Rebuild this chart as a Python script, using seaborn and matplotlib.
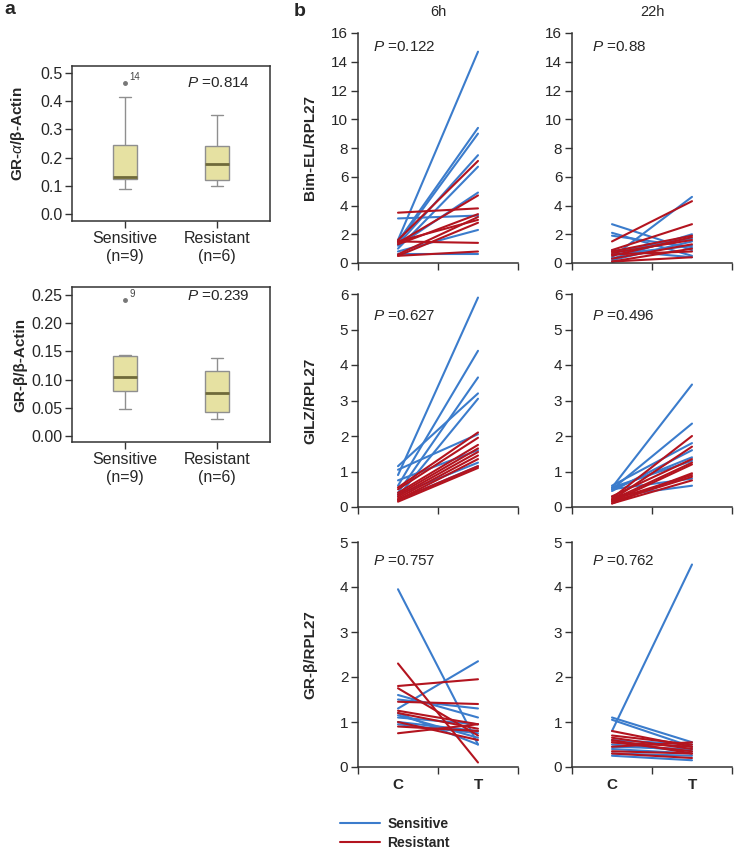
import pandas as pd
import matplotlib
matplotlib.use("Agg")
import matplotlib.pyplot as plt
import seaborn as sns

sns.set_style("ticks")
plt.rcParams['font.family'] = ['Liberation Sans', 'DejaVu Sans']
plt.rcParams['mathtext.fontset'] = 'custom'
plt.rcParams['mathtext.rm'] = 'Liberation Sans'
plt.rcParams['mathtext.it'] = 'Liberation Sans:italic'
plt.rcParams['mathtext.bf'] = 'Liberation Sans:bold'

W, H = 742, 856

# ---- panel a data: per-sample expression ----
groups_a = ["Sensitive", "Resistant"]
group_labels_a = ["Sensitive\n(n=9)", "Resistant\n(n=6)"]
gr_alpha_sens = [0.088, 0.110, 0.125, 0.128, 0.130, 0.200, 0.245, 0.415, 0.465]
gr_alpha_res = [0.100, 0.115, 0.139, 0.217, 0.250, 0.352]
gr_beta_sens = [0.048, 0.070, 0.080, 0.090, 0.105, 0.120, 0.142, 0.143, 0.241]
gr_beta_res = [0.031, 0.040, 0.0504, 0.1032, 0.1189, 0.139]
outlier_ids = ["14", "9"]
p_values_a = ["0.814", "0.239"]

# ---- panel b data: (control, treated) pairs ----
conditions = ["C", "T"]
times = ["6h", "22h"]
genes = ["Bim-EL/RPL27", "GILZ/RPL27", "GR-β/RPL27"]
p_values_b = [["0.122", "0.88"], ["0.627", "0.496"], ["0.757", "0.762"]]

bim_6h_sens = [(1.6, 14.7), (1.5, 9.4), (1.4, 9.0), (1.3, 7.5), (1.0, 6.7),
               (1.2, 4.9), (3.1, 3.3), (0.8, 2.3), (0.6, 0.6)]
bim_6h_res = [(3.5, 3.8), (1.6, 7.1), (1.4, 4.7), (1.3, 3.4), (0.6, 3.2),
              (1.5, 3.0), (0.5, 2.8), (1.5, 1.4), (0.5, 0.8)]
bim_22h_sens = [(2.7, 0.9), (2.1, 0.5), (1.9, 1.1), (0.4, 4.6), (0.3, 2.0),
                (0.8, 1.7), (0.2, 1.5), (0.9, 0.4), (0.6, 1.2)]
bim_22h_res = [(1.5, 4.3), (0.9, 2.7), (0.8, 1.9), (0.7, 1.6), (0.5, 1.8),
               (0.3, 1.3), (0.1, 1.0), (0.1, 0.4), (0.6, 0.8)]
gilz_6h_sens = [(0.9, 5.9), (0.6, 4.4), (0.4, 3.65), (1.15, 3.2), (0.3, 3.05),
                (1.05, 2.05), (0.75, 1.6), (0.35, 1.25), (0.2, 1.15)]
gilz_6h_res = [(0.55, 2.1), (0.5, 1.95), (0.4, 1.75), (0.35, 1.65), (0.3, 1.55),
               (0.25, 1.45), (0.2, 1.35), (0.2, 1.15), (0.15, 1.1)]
gilz_22h_sens = [(0.55, 3.45), (0.5, 2.35), (0.6, 1.8), (0.45, 1.6), (0.5, 1.4),
                 (0.55, 1.3), (0.5, 0.8), (0.3, 0.6)]
gilz_22h_res = [(0.25, 2.0), (0.2, 1.7), (0.3, 1.35), (0.2, 1.25), (0.15, 1.2),
                (0.1, 0.95), (0.2, 0.9), (0.15, 0.85), (0.1, 0.75)]
grb_6h_sens = [(3.95, 0.5), (1.3, 2.35), (1.5, 1.3), (1.6, 1.1), (1.1, 0.95),
               (1.0, 0.8), (1.15, 0.65), (0.95, 0.75), (1.2, 0.5)]
grb_6h_res = [(2.3, 0.1), (1.8, 1.95), (1.45, 1.4), (1.75, 0.7), (1.25, 0.95),
              (1.2, 0.85), (1.0, 0.6), (0.9, 0.8), (0.75, 0.95)]
grb_22h_sens = [(0.8, 4.5), (1.1, 0.55), (1.05, 0.45), (0.5, 0.35), (0.4, 0.3),
                (0.3, 0.25), (0.6, 0.5), (0.25, 0.15), (0.45, 0.4)]
grb_22h_res = [(0.8, 0.45), (0.7, 0.5), (0.65, 0.4), (0.6, 0.3), (0.55, 0.35),
               (0.45, 0.55), (0.35, 0.3), (0.3, 0.2), (0.55, 0.45)]

panels_b = [[(bim_6h_sens, bim_6h_res), (bim_22h_sens, bim_22h_res)],
            [(gilz_6h_sens, gilz_6h_res), (gilz_22h_sens, gilz_22h_res)],
            [(grb_6h_sens, grb_6h_res), (grb_22h_sens, grb_22h_res)]]
ylims_b = [16, 6, 5]
ysteps_b = [2, 1, 1]

palette = {"Sensitive": "#3b7ccc", "Resistant": "#b3141f"}
box_fill = "#e6e1a2"


def rect(l, t, r, b):
    return [l / W, 1 - b / H, (r - l) / W, (b - t) / H]


def fpos(x, y):
    return x / W, 1 - y / H


fig = plt.figure(figsize=(W / 100, H / 100), dpi=100)

# ---- panel a ----
a_rects = [rect(72, 66, 270, 221), rect(72, 287, 270, 442)]
a_data = [(gr_alpha_sens, gr_alpha_res), (gr_beta_sens, gr_beta_res)]
a_ylabels = [r"GR-$\alpha$/β-Actin", "GR-β/β-Actin"]
a_ylims = [(-0.0248, 0.5248), (-0.0106, 0.264)]
a_ticks = [[0.0, 0.1, 0.2, 0.3, 0.4, 0.5], [0.0, 0.05, 0.10, 0.15, 0.20, 0.25]]
a_fmt = ["{:.1f}", "{:.2f}"]
a_ptext_y = [83, 296]
a_label_y = [0.56, 0.5]

for i in range(2):
    ax = fig.add_axes(a_rects[i])
    sens, res = a_data[i]
    df = pd.DataFrame({"group": ["Sensitive"] * len(sens) + ["Resistant"] * len(res),
                       "value": sens + res})
    sns.boxplot(data=df, x="group", y="value", order=groups_a, width=0.26,
                color=box_fill, saturation=1, linecolor="#8f8f8f", linewidth=1,
                fliersize=2.5, ax=ax,
                medianprops=dict(color="#6f6a3a", linewidth=2),
                flierprops=dict(marker="o", markerfacecolor="#777777",
                                markeredgecolor="#777777"))
    ax.set_xlim(-0.58, 1.58)
    ax.set_ylim(*a_ylims[i])
    ax.set_yticks(a_ticks[i])
    ax.set_yticklabels([a_fmt[i].format(t) for t in a_ticks[i]], fontsize=11.5)
    ax.set_xticks([0, 1])
    ax.set_xticklabels(group_labels_a, fontsize=11.5, linespacing=1.3)
    ax.set_xlabel("")
    ax.set_ylabel(a_ylabels[i], fontsize=11, fontweight="bold")
    ax.yaxis.set_label_coords(-0.225, a_label_y[i])
    ax.tick_params(length=5, width=1, color="#333333", pad=2)
    for s in ax.spines.values():
        s.set_color("#333333")
        s.set_linewidth(1.1)
    ax.annotate(outlier_ids[i], xy=(0, max(sens)), xytext=(3, 2),
                textcoords="offset points", fontsize=7, color="#444444")
    x, y = fpos(187, a_ptext_y[i])
    fig.text(x, y, "$P$ =" + p_values_a[i], fontsize=11, va="center", ha="left")

# ---- panel b ----
col_lr = [(358, 518), (572, 732)]
row_tb = [(33, 263), (294, 507), (542, 767)]
ptext_y = [47, 316, 561]
ptext_x = [373, 592]
legend_handles = None

for r in range(3):
    for c in range(2):
        l, rr = col_lr[c]
        t, b = row_tb[r]
        ax = fig.add_axes(rect(l, t, rr, b))
        sens, res = panels_b[r][c]
        rows = []
        for grp, pairs in (("Sensitive", sens), ("Resistant", res)):
            for k, pair in enumerate(pairs):
                for j, cond in enumerate(conditions):
                    rows.append({"id": f"{grp}{k}", "group": grp, "x": j,
                                 "value": pair[j]})
        df = pd.DataFrame(rows)
        sns.lineplot(data=df, x="x", y="value", hue="group", units="id",
                     estimator=None, palette=palette, linewidth=1.5,
                     hue_order=["Sensitive", "Resistant"],
                     legend=(r == 2 and c == 0), ax=ax)
        if r == 2 and c == 0:
            legend_handles = ax.get_legend_handles_labels()
            ax.get_legend().remove()
        ax.set_xlim(-0.5, 1.5)
        ax.set_ylim(0, ylims_b[r])
        ax.set_yticks(range(0, ylims_b[r] + 1, ysteps_b[r]))
        ax.tick_params(axis="y", labelsize=11, length=5, width=1,
                       color="#333333", pad=2)
        ax.set_xticks([0, 1])
        ax.set_xticks([-0.5, 0.5, 1.5], minor=True)
        ax.tick_params(axis="x", which="major", length=0, pad=8)
        ax.tick_params(axis="x", which="minor", length=5, width=1, color="#333333")
        if r == 2:
            ax.set_xticklabels(conditions, fontsize=11, fontweight="bold")
        else:
            ax.set_xticklabels([])
        ax.set_xlabel("")
        if c == 0:
            ax.set_ylabel(genes[r], fontsize=11, fontweight="bold")
            ax.yaxis.set_label_coords(-0.256, 0.5)
        else:
            ax.set_ylabel("")
        sns.despine(ax=ax)
        for s in ("left", "bottom"):
            ax.spines[s].set_color("#333333")
            ax.spines[s].set_linewidth(1.1)
        x, y = fpos(ptext_x[c], ptext_y[r])
        fig.text(x, y, "$P$ =" + p_values_b[r][c], fontsize=11,
                 va="center", ha="left")

for c in range(2):
    x, y = fpos(sum(col_lr[c]) / 2, 12)
    fig.text(x, y, times[c], fontsize=10.5, ha="center", va="center")

x, y = fpos(4, 10)
fig.text(x, y, "a", fontsize=14, fontweight="bold", ha="left", va="center")
x, y = fpos(294, 12)
fig.text(x, y, "b", fontsize=14, fontweight="bold", ha="left", va="center")

handles, labels = legend_handles
fig.legend(handles, labels, loc="upper left", bbox_to_anchor=fpos(340, 817),
           frameon=False, borderpad=0, borderaxespad=0, handlelength=2.9,
           handletextpad=0.5, labelspacing=0.35,
           prop=dict(weight="bold", size=10))

fig.savefig("out.png", dpi=100)
